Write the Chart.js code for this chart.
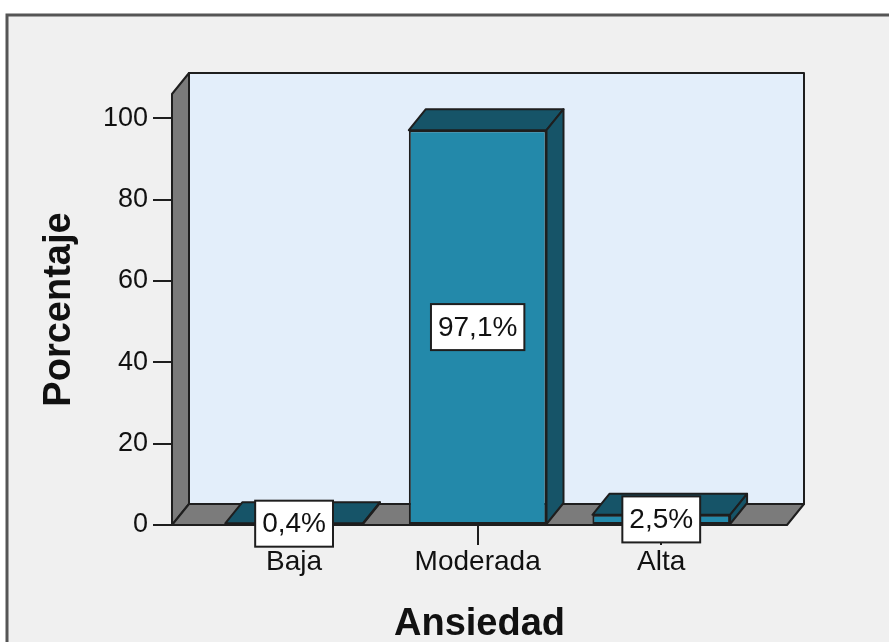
<!DOCTYPE html>
<html lang="es">
<head>
<meta charset="UTF-8">
<title>Ansiedad</title>
<script src="https://cdn.jsdelivr.net/npm/chart.js"></script>
<style>
  body { margin: 0; background: #fff; }
  canvas { display: block; }
</style>
</head>
<body>
<canvas id="chart" width="889" height="642"></canvas>
<script>
// data
const categories = ['Baja', 'Moderada', 'Alta'];
const porcentajes = [0.4, 97.1, 2.5];
const yTicks = [0, 20, 40, 60, 80, 100];

// 3d look
const DX = 17, DY = -21;
const EDGE = '#1e1e1e';
const WALL = '#7b7b7b';
const BACK = '#e3eefa';
const BAR_FRONT = '#2389aa';
const BAR_DARK = '#165468';
const FONT = '"Liberation Sans", Arial, sans-serif';

function poly(ctx, pts, fill) {
    ctx.beginPath();
    ctx.moveTo(pts[0][0], pts[0][1]);
    for (let i = 1; i < pts.length; i++) ctx.lineTo(pts[i][0], pts[i][1]);
    ctx.closePath();
    ctx.fillStyle = fill;
    ctx.fill();
    ctx.stroke();
}

const walls = {
    id: 'walls',
    beforeDraw(chart) {
        const ctx = chart.ctx;
        const { left, right, top, bottom } = chart.chartArea;
        ctx.save();
        ctx.fillStyle = '#fff';
        ctx.fillRect(0, 0, chart.width, chart.height);
        // outer panel
        ctx.fillStyle = '#f0f0f0';
        ctx.fillRect(7, 15, chart.width, chart.height);
        ctx.strokeStyle = '#555';
        ctx.lineWidth = 3;
        ctx.beginPath();
        ctx.moveTo(7, chart.height + 5);
        ctx.lineTo(7, 15);
        ctx.lineTo(chart.width + 5, 15);
        ctx.stroke();

        ctx.strokeStyle = EDGE;
        ctx.lineWidth = 2;
        ctx.lineJoin = 'round';
        // back wall
        poly(ctx, [[left + DX, top + DY], [right + DX, top + DY], [right + DX, bottom + DY], [left + DX, bottom + DY]], BACK);
        // left wall
        poly(ctx, [[left, top], [left + DX, top + DY], [left + DX, bottom + DY], [left, bottom]], WALL);
        // floor
        poly(ctx, [[left, bottom], [left + DX, bottom + DY], [right + DX, bottom + DY], [right, bottom]], WALL);
        ctx.restore();
    },
    beforeDatasetsDraw(chart) {
        const ctx = chart.ctx;
        ctx.save();
        ctx.strokeStyle = EDGE;
        ctx.lineWidth = 2;
        ctx.lineJoin = 'round';
        chart.getDatasetMeta(0).data.forEach(bar => {
            const x1 = bar.x - bar.width / 2, x2 = bar.x + bar.width / 2;
            const y = bar.y, base = bar.base;
            poly(ctx, [[x1, y], [x1 + DX, y + DY], [x2 + DX, y + DY], [x2, y]], BAR_DARK);
            poly(ctx, [[x2, y], [x2 + DX, y + DY], [x2 + DX, base + DY], [x2, base]], BAR_DARK);
        });
        ctx.restore();
    },
    afterDatasetsDraw(chart) {
        const ctx = chart.ctx;
        ctx.save();
        ctx.font = '28px ' + FONT;
        ctx.textAlign = 'center';
        ctx.textBaseline = 'middle';
        chart.getDatasetMeta(0).data.forEach((bar, i) => {
            const txt = porcentajes[i].toFixed(1).replace('.', ',') + '%';
            const w = ctx.measureText(txt).width + 14, h = 46;
            const cy = (bar.y + bar.base) / 2;
            ctx.fillStyle = '#fff';
            ctx.fillRect(bar.x - w / 2, cy - h / 2, w, h);
            ctx.strokeStyle = EDGE;
            ctx.lineWidth = 2;
            ctx.strokeRect(bar.x - w / 2, cy - h / 2, w, h);
            ctx.fillStyle = '#111';
            ctx.fillText(txt, bar.x, cy + 1);
        });
        ctx.restore();
    }
};

new Chart(document.getElementById('chart').getContext('2d'), {
    type: 'bar',
    data: {
        datasets: [{
            data: porcentajes.map((v, i) => ({ x: i, y: v })),
            backgroundColor: BAR_FRONT,
            borderColor: EDGE,
            borderWidth: 2,
            borderSkipped: false,
            categoryPercentage: 1,
            barPercentage: 0.75
        }]
    },
    options: {
        responsive: false,
        animation: false,
        layout: { padding: { left: 10, top: 94, right: 102, bottom: 0 } },
        plugins: { legend: { display: false }, tooltip: { enabled: false } },
        scales: {
            x: {
                type: 'linear',
                min: -0.665,
                max: 2.685,
                offset: false,
                afterBuildTicks: s => { s.ticks = categories.map((c, i) => ({ value: i })); },
                afterFit: s => { s.height = 117; },
                border: { display: false },
                grid: { offset: false, drawOnChartArea: false, tickLength: 20, color: EDGE, lineWidth: 2 },
                ticks: {
                    autoSkip: false, maxRotation: 0, padding: 0, color: '#111',
                    font: { family: FONT, size: 28 },
                    callback: v => categories[v]
                },
                title: {
                    display: true, text: 'Ansiedad', color: '#111', padding: 0,
                    font: { family: FONT, size: 38, weight: 'bold', lineHeight: 0.92 }
                }
            },
            y: {
                min: 0,
                max: 106,
                afterBuildTicks: s => { s.ticks = yTicks.map(v => ({ value: v })); },
                afterFit: s => { s.width = 162; },
                border: { display: false },
                grid: { drawOnChartArea: false, tickLength: 19, color: EDGE, lineWidth: 2 },
                ticks: { padding: 5, color: '#111', font: { family: FONT, size: 27 } },
                title: {
                    display: true, text: 'Porcentaje', color: '#111', padding: { top: 27 },
                    font: { family: FONT, size: 38, weight: 'bold' }
                }
            }
        }
    },
    plugins: [walls]
});
</script>
</body>
</html>
